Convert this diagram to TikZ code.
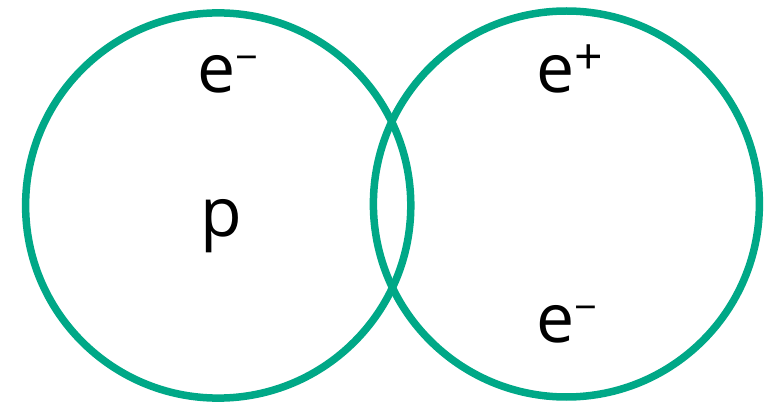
\documentclass[tikz,border=0pt]{standalone}
\usepackage{fontspec}
\setmainfont{Open Sans}
\definecolor{teal1}{RGB}{0,168,135}
\newcommand{\supm}{\raisebox{21pt}{\fontsize{40}{40}\selectfont −}}
\newcommand{\supp}{\raisebox{18pt}{\fontsize{50}{50}\selectfont +}}
\begin{document}
\begin{tikzpicture}[x=1pt,y=-1pt,
  ring/.style={draw=teal1,line width=7.5pt},
  lbl/.style={anchor=base west,inner sep=0pt,font=\fontsize{68}{68}\selectfont}]
\useasboundingbox (0,0) rectangle (772,406);
\draw[ring] (218.2,205.5) circle[radius=192.6];
\draw[ring] (566.4,204) circle[radius=193];
\node[lbl] (em1) at (197,93) {e\supm};
\node[lbl] (p) at (200,237) {p};
\node[lbl] (ep) at (536,93) {e\supp};
\node[lbl] (em2) at (536,343) {e\supm};
\end{tikzpicture}
\end{document}
